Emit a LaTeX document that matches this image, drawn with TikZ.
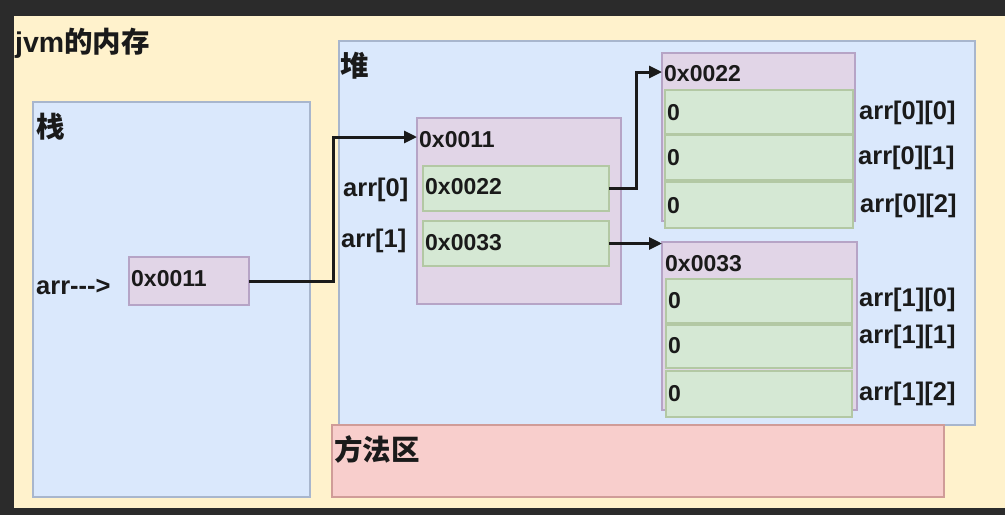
\documentclass[tikz,border=0pt]{standalone}
\usepackage{fontspec}
\setmainfont{Liberation Sans}
\newfontfamily\cjk{Noto Sans CJK SC}
\usetikzlibrary{arrows.meta}
\definecolor{bgdark}{HTML}{2B2B2B}
\definecolor{yel}{HTML}{FFF2CC}
\definecolor{blu}{HTML}{DAE8FC}
\definecolor{blub}{HTML}{A8B6CD}
\definecolor{pur}{HTML}{E1D5E7}
\definecolor{purb}{HTML}{B6A4C6}
\definecolor{grn}{HTML}{D5E8D4}
\definecolor{grnb}{HTML}{B3C8A4}
\definecolor{red}{HTML}{F8CECC}
\definecolor{redb}{HTML}{D09C98}
\definecolor{ink}{HTML}{1A1A1A}
\tikzset{
  area/.style={draw, line width=1.6pt, anchor=north west, inner sep=0, outer sep=0, rectangle},
  yelbox/.style={area, fill=yel, draw=none},
  blubox/.style={area, fill=blu, draw=blub},
  purbox/.style={area, fill=pur, draw=purb},
  grnbox/.style={area, fill=grn, draw=grnb},
  redbox/.style={area, fill=red, draw=redb},
  hex/.style={anchor=west, inner sep=0, text=ink, font=\bfseries\fontsize{23}{27}\selectfont},
  idx/.style={anchor=west, inner sep=0, text=ink, font=\bfseries\fontsize{25.5}{30}\selectfont},
  title/.style={anchor=west, inner sep=0, text=ink, font=\bfseries\fontsize{28.5}{33}\selectfont},
  conn/.style={draw=ink, line width=3pt, -{Triangle[length=13pt, width=12pt]}},
}
\begin{document}
\begin{tikzpicture}[x=1pt, y=-1pt]
\useasboundingbox (0,0) rectangle (1005,515);
\fill[bgdark] (0,0) rectangle (1005,515);
% outer jvm memory
\node[yelbox, minimum width=995, minimum height=492] (jvm) at (14,16) {};
\node[title] (tjvm) at (15,43) {jvm{\cjk 的内存}};
% stack
\node[blubox, minimum width=277, minimum height=395] (stack) at (33,102) {};
\node[title] (tstack) at (36,127) {\cjk 栈};
\node[idx] (tarr) at (36,287) {arr{-}{-}{-}>};
\node[purbox, minimum width=120, minimum height=48] (s11) at (129,257) {};
\node[hex] (ts11) at (131,279) {0x0011};
% heap
\node[blubox, minimum width=636, minimum height=384] (heap) at (339,41) {};
\node[title] (theap) at (340,66) {\cjk 堆};
% method area
\node[redbox, minimum width=612, minimum height=72] (meth) at (332,425) {};
\node[title] (tmeth) at (334,449) {\cjk 方法区};
% array 0x0011
\node[purbox, minimum width=204, minimum height=186] (a11) at (417,118) {};
\node[hex] (ta11) at (419,140) {0x0011};
\node[grnbox, minimum width=186, minimum height=45] (c0) at (423,166) {};
\node[hex] (tc0) at (425,187) {0x0022};
\node[grnbox, minimum width=186, minimum height=45] (c1) at (423,221) {};
\node[hex] (tc1) at (425,243) {0x0033};
\node[idx] (tarr0) at (343,190) {arr[0]};
\node[idx] (tarr1) at (341,241) {arr[1]};
% array 0x0022
\node[purbox, minimum width=193, minimum height=168] (b22) at (662,53) {};
\node[hex] (tb22) at (664,74) {0x0022};
\node[grnbox, minimum width=188, minimum height=44] (d0) at (665,90) {};
\node[grnbox, minimum width=188, minimum height=45] (d1) at (665,135) {};
\node[grnbox, minimum width=188, minimum height=46] (d2) at (665,182) {};
\node[hex] (td0) at (667,113) {0};
\node[hex] (td1) at (667,158) {0};
\node[hex] (td2) at (667,206) {0};
\node[idx] (l00) at (859,113) {arr[0][0]};
\node[idx] (l01) at (858,158) {arr[0][1]};
\node[idx] (l02) at (860,206) {arr[0][2]};
% array 0x0033
\node[purbox, minimum width=195, minimum height=168] (b33) at (662,242) {};
\node[hex] (tb33) at (665,264) {0x0033};
\node[grnbox, minimum width=186, minimum height=44] (e0) at (666,279) {};
\node[grnbox, minimum width=186, minimum height=43] (e1) at (666,325) {};
\node[grnbox, minimum width=186, minimum height=46] (e2) at (666,371) {};
\node[hex] (te0) at (668,301) {0};
\node[hex] (te1) at (668,346) {0};
\node[hex] (te2) at (668,394) {0};
\node[idx] (l10) at (859,300) {arr[1][0]};
\node[idx] (l11) at (859,337) {arr[1][1]};
\node[idx] (l12) at (859,394) {arr[1][2]};
% connectors
\coordinate (k1) at (333,137);
\coordinate (k2) at (636,72);
\draw[conn] (s11.east) -| (k1) -- (k1 -| a11.west);
\draw[conn] (c0.east) -| (k2) -- (k2 -| b22.west);
\draw[conn] (c1.east) -- (c1.east -| b33.west);
\end{tikzpicture}
\end{document}
